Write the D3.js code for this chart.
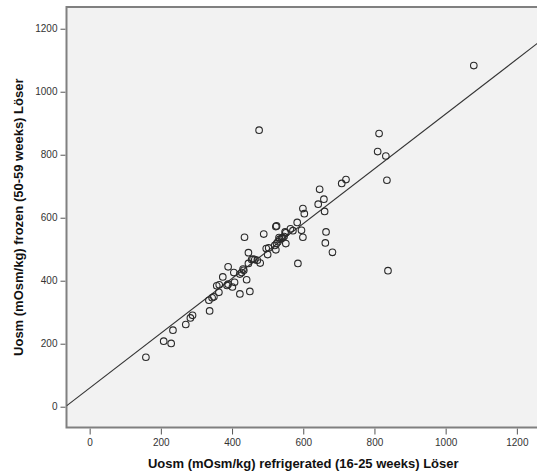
<!DOCTYPE html>
<html>
<head>
<meta charset="utf-8">
<script src="https://cdn.jsdelivr.net/npm/d3@7/dist/d3.min.js"></script>
<style>
  html, body { margin: 0; padding: 0; background: #fff; }
  svg { display: block; font-family: "Liberation Sans", Arial, sans-serif; }
</style>
</head>
<body>
<svg id="chart" width="537" height="475"></svg>
<script>
// Osmolality: refrigerated (x) vs frozen (y) samples, mOsm/kg
const refrigerated = [
  1079, 476, 813, 809, 832, 835, 720, 708, 646, 658,
  642, 660, 599, 603, 664, 662, 682, 838, 585, 583,
  595, 599, 523, 525, 564, 571, 551, 549, 551, 489,
  435, 534, 529, 525, 520, 523, 503, 496, 500, 479,
  471, 464, 459, 455, 446, 446, 433, 427, 422, 441,
  450, 422, 405, 407, 401, 389, 389, 386, 374, 364,
  357, 363, 349, 344, 335, 337, 289, 283, 270, 234,
  208, 229, 158, 546, 539, 542, 532, 431
];
const frozen = [
  1083, 878, 867, 810, 796, 719, 721, 709, 690, 659,
  643, 620, 629, 613, 555, 520, 490, 432, 455, 585,
  560, 538, 572, 574, 565, 559, 552, 555, 518, 548,
  538, 532, 524, 518, 512, 498, 504, 502, 483, 456,
  465, 467, 469, 467, 489, 455, 433, 426, 421, 403,
  366, 358, 426, 395, 380, 444, 389, 385, 412, 387,
  384, 363, 349, 346, 338, 304, 290, 282, 261, 243,
  208, 201, 157, 540, 534, 537, 537, 437
];

// Fit line drawn across the plot
const fitIntercept = 59.4;
const fitSlope = 0.87;

const xTicks = [0, 200, 400, 600, 800, 1000, 1200];
const yTicks = [0, 200, 400, 600, 800, 1000, 1200];

const xTitle = "Uosm (mOsm/kg) refrigerated (16-25 weeks) Löser";
const yTitle = "Uosm (mOsm/kg) frozen (50-59 weeks) Löser";

const svg = d3.select("#chart");
const plot = { left: 66.5, top: 7, right: 540, bottom: 427.5 };

const x = d3.scaleLinear().domain([-65, 1265]).range([plot.left, plot.right]);
const y = d3.scaleLinear().domain([-66, 1269]).range([plot.bottom, plot.top]);

// plot background
svg.append("rect")
  .attr("x", plot.left).attr("y", plot.top)
  .attr("width", plot.right - plot.left).attr("height", plot.bottom - plot.top)
  .attr("fill", "#f2f2f2");

svg.append("clipPath").attr("id", "plotClip")
  .append("rect")
  .attr("x", plot.left).attr("y", plot.top)
  .attr("width", plot.right - plot.left).attr("height", plot.bottom - plot.top);

// axes
const yAxis = svg.append("g")
  .attr("transform", `translate(${plot.left - 1},0)`)
  .call(d3.axisLeft(y).tickValues(yTicks).tickSize(5).tickPadding(3).tickFormat(d3.format("d")));
const xAxis = svg.append("g")
  .attr("transform", `translate(0,${plot.bottom + 1})`)
  .call(d3.axisBottom(x).tickValues(xTicks).tickSize(6).tickPadding(4).tickFormat(d3.format("d")));

[xAxis, yAxis].forEach(g => {
  g.select(".domain").remove();
  g.selectAll(".tick line").attr("stroke", "#555").attr("stroke-width", 1);
  g.selectAll(".tick text").attr("fill", "#333").style("font-size", "10px")
    .style("font-family", "'Liberation Sans', Arial, sans-serif");
});

// frame: left, top and bottom edges
svg.append("path")
  .attr("d", `M${plot.right},${plot.top}H${plot.left}V${plot.bottom}H${plot.right}`)
  .attr("fill", "none").attr("stroke", "#808080").attr("stroke-width", 2);

// fit line
const g = svg.append("g").attr("clip-path", "url(#plotClip)");
const xd = x.domain();
g.append("line")
  .attr("x1", x(xd[0])).attr("y1", y(fitIntercept + fitSlope * xd[0]))
  .attr("x2", x(xd[1])).attr("y2", y(fitIntercept + fitSlope * xd[1]))
  .attr("stroke", "#333").attr("stroke-width", 1.1);

// data points
const pts = refrigerated.map((v, i) => ({ x: v, y: frozen[i] }));
g.selectAll("circle.pt").data(pts).join("circle")
  .attr("class", "pt")
  .attr("cx", d => x(d.x)).attr("cy", d => y(d.y))
  .attr("r", 3.3)
  .attr("fill", "none").attr("stroke", "#2a2a2a").attr("stroke-width", 1.1);

// axis titles
svg.append("text")
  .attr("x", (plot.left + plot.right) / 2).attr("y", 468)
  .attr("text-anchor", "middle")
  .style("font-size", "13px").style("font-weight", "bold").attr("fill", "#111")
  .text(xTitle);
svg.append("text")
  .attr("transform", `translate(23,${(plot.top + plot.bottom) / 2}) rotate(-90)`)
  .attr("text-anchor", "middle")
  .style("font-size", "13px").style("font-weight", "bold").attr("fill", "#111")
  .text(yTitle);
</script>
</body>
</html>
